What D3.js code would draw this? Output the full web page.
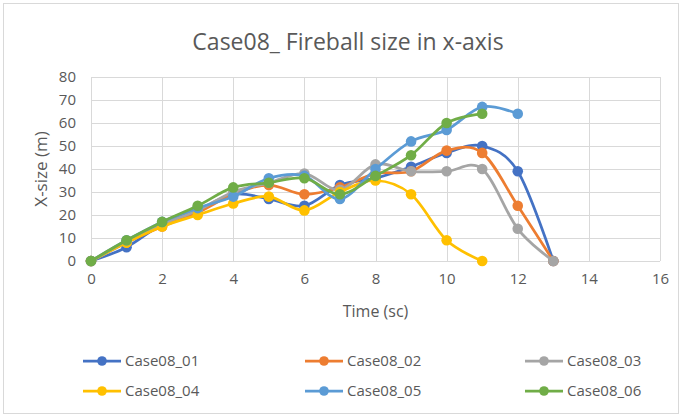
<!DOCTYPE html>
<html>
<head>
<meta charset="utf-8">
<script src="https://cdn.jsdelivr.net/npm/d3@7"></script>
<style>
  html, body { margin: 0; padding: 0; background: #fff; }
  svg text { font-family: "Open Sans", "Noto Sans", sans-serif; fill: #595959; }
</style>
</head>
<body>
<svg id="chart" width="682" height="417"></svg>
<script>
// Fireball x-size over time, six runs of case 08
const times = [0, 1, 2, 3, 4, 5, 6, 7, 8, 9, 10, 11, 12, 13];
const case01 = [0, 6, 16, 22, 29, 27, 24, 33, 36, 41, 47, 50, 39, 0];
const case02 = [0, 8, 15, 21, 29, 33, 29, 32, 38, 39, 48, 47, 24, 0];
const case03 = [0, 8, 16, 22, 30, 34, 38, 31, 42, 39, 39, 40, 14, 0];
const case04 = [0, 8, 15, 20, 25, 28, 22, 30, 35, 29, 9, 0];
const case05 = [0, 9, 17, 23, 28, 36, 37, 27, 40, 52, 57, 67, 64];
const case06 = [0, 9, 17, 24, 32, 34, 36, 29, 37, 46, 60, 64];
const seriesNames = ["Case08_01", "Case08_02", "Case08_03", "Case08_04", "Case08_05", "Case08_06"];
const seriesColors = ["#4472C4", "#ED7D31", "#A5A5A5", "#FFC000", "#5B9BD5", "#70AD47"];
const xTicks = [0, 2, 4, 6, 8, 10, 12, 14, 16];
const yTicks = [0, 10, 20, 30, 40, 50, 60, 70, 80];

const seriesValues = [case01, case02, case03, case04, case05, case06];
const series = seriesNames.map((name, i) => ({
  name,
  color: seriesColors[i],
  points: seriesValues[i].map((v, j) => ({ t: times[j], v }))
}));

const svg = d3.select("#chart");
const plot = { left: 91, right: 660, top: 77, bottom: 261 };

const x = d3.scaleLinear().domain([0, 16]).range([plot.left, plot.right]);
const y = d3.scaleLinear().domain([0, 80]).range([plot.bottom, plot.top]);

// chart frame
svg.append("rect")
  .attr("x", 3.5).attr("y", 3.5).attr("width", 675).attr("height", 410)
  .attr("fill", "#fff").attr("stroke", "#d9d9d9").attr("stroke-width", 1);

// title
svg.append("text")
  .attr("x", 348).attr("y", 50)
  .attr("text-anchor", "middle")
  .style("font-size", "23px")
  .text("Case08_ Fireball size in x-axis");

// gridlines
const grid = svg.append("g").attr("stroke", "#d9d9d9").attr("stroke-width", 1);
grid.selectAll("line.h").data(yTicks).join("line")
  .attr("class", "h")
  .attr("x1", plot.left).attr("x2", plot.right)
  .attr("y1", d => Math.round(y(d)) + 0.5).attr("y2", d => Math.round(y(d)) + 0.5);
grid.selectAll("line.v").data(xTicks).join("line")
  .attr("class", "v")
  .attr("x1", d => Math.round(x(d)) + 0.5).attr("x2", d => Math.round(x(d)) + 0.5)
  .attr("y1", plot.top).attr("y2", plot.bottom);

// axes (labels only, Excel style)
const xAxis = svg.append("g")
  .attr("transform", `translate(0,${plot.bottom})`)
  .call(d3.axisBottom(x).tickValues(xTicks).tickSize(0).tickPadding(12));
const yAxis = svg.append("g")
  .attr("transform", `translate(${plot.left},0)`)
  .call(d3.axisLeft(y).tickValues(yTicks).tickSize(0).tickPadding(15));
[xAxis, yAxis].forEach(a => {
  a.select(".domain").remove();
  a.selectAll("text").style("font-size", "15px").attr("fill", "#595959")
    .style("font-family", '"Open Sans", sans-serif');
});

// axis titles
svg.append("text")
  .attr("x", (plot.left + plot.right) / 2).attr("y", 317)
  .attr("text-anchor", "middle")
  .style("font-size", "16px")
  .text("Time (sc)");
svg.append("text")
  .attr("transform", `translate(47,${(plot.top + plot.bottom) / 2}) rotate(-90)`)
  .attr("text-anchor", "middle")
  .style("font-size", "17px")
  .text("X-size (m)");

// smoothed series lines and markers
const line = d3.line()
  .x(d => x(d.t))
  .y(d => y(d.v))
  .curve(d3.curveCardinal.tension(0));

const groups = svg.append("g").selectAll("g.series").data(series).join("g")
  .attr("class", "series");
groups.append("path")
  .attr("d", d => line(d.points))
  .attr("fill", "none")
  .attr("stroke", d => d.color)
  .attr("stroke-width", 2.75)
  .attr("stroke-linecap", "round");
groups.selectAll("circle").data(d => d.points.map(p => ({ ...p, color: d.color }))).join("circle")
  .attr("cx", d => x(d.t))
  .attr("cy", d => y(d.v))
  .attr("r", 5.3)
  .attr("fill", d => d.color);

// legend: three columns, two rows
const legendCols = [83, 305, 525];
const legendRows = [361, 391];
const legend = svg.append("g").selectAll("g.item").data(series).join("g")
  .attr("class", "item")
  .attr("transform", (d, i) => `translate(${legendCols[i % 3]},${legendRows[Math.floor(i / 3)]})`);
legend.append("line")
  .attr("x1", 0).attr("x2", 38).attr("y1", 0).attr("y2", 0)
  .attr("stroke", d => d.color).attr("stroke-width", 2.75);
legend.append("circle")
  .attr("cx", 19).attr("cy", 0).attr("r", 4.8)
  .attr("fill", d => d.color);
legend.append("text")
  .attr("x", 42).attr("y", 0).attr("dy", "0.35em")
  .style("font-size", "15px")
  .text(d => d.name);
</script>
</body>
</html>
